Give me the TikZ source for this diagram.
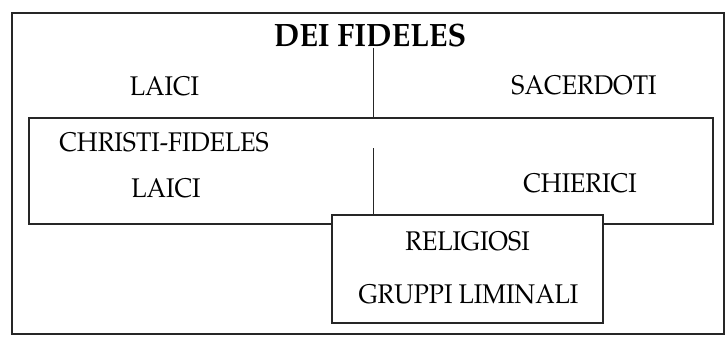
\documentclass[tikz,border=0pt]{standalone}
\usepackage[T1]{fontenc}
\usepackage{mathpazo}
\usepackage{graphicx}
\newcommand{\tallA}[1]{\scalebox{1}[1.08]{#1}}
\newcommand{\tallB}[1]{\scalebox{1}[1.06]{#1}}
\begin{document}
\begin{tikzpicture}[x=1pt,y=-1pt,
  lbl/.style={inner sep=0pt, anchor=base, font=\fontsize{25}{30}\selectfont},
  titlelbl/.style={inner sep=0pt, anchor=base, font=\fontsize{30.5}{36}\selectfont\bfseries},
  boxline/.style={draw=black!85, line width=2pt, inner sep=0pt},
  conn/.style={draw=black!85, line width=1.2pt}]
\useasboundingbox (0,0) rectangle (727,337);
\fill[white] (0,0) rectangle (727,337);
\node[boxline, minimum width=712pt, minimum height=321pt] (outer) at (368,173.5) {};
\node[boxline, fill=white, minimum width=684pt, minimum height=106pt] (inner) at (371,170.5) {};
\node[boxline, fill=white, minimum width=271pt, minimum height=108pt] (relbox) at (467.5,269) {};
\node[titlelbl] (dei) at (370,47) {\tallB{DEI FIDELES}};
\node[lbl] (laici1) at (164.5,95) {\tallA{LAICI}};
\node[lbl] (sacer) at (584,94) {\tallA{SACERDOTI}};
\node[lbl] (christi) at (164,151) {\tallA{CHRISTI-FIDELES}};
\node[lbl] (laici2) at (166,197) {\tallA{LAICI}};
\node[lbl] (chier) at (580,192) {\tallA{CHIERICI}};
\node[lbl] (relig) at (467.5,250) {\tallA{RELIGIOSI}};
\node[lbl] (grup) at (468.5,303) {\tallA{GRUPPI LIMINALI}};
\coordinate (topstart) at (373.5,48);
\coordinate (midstart) at (373.5,148);
\draw[conn] (topstart) -- (topstart |- inner.north);
\draw[conn] (midstart) -- (midstart |- relbox.north);
\end{tikzpicture}
\end{document}
